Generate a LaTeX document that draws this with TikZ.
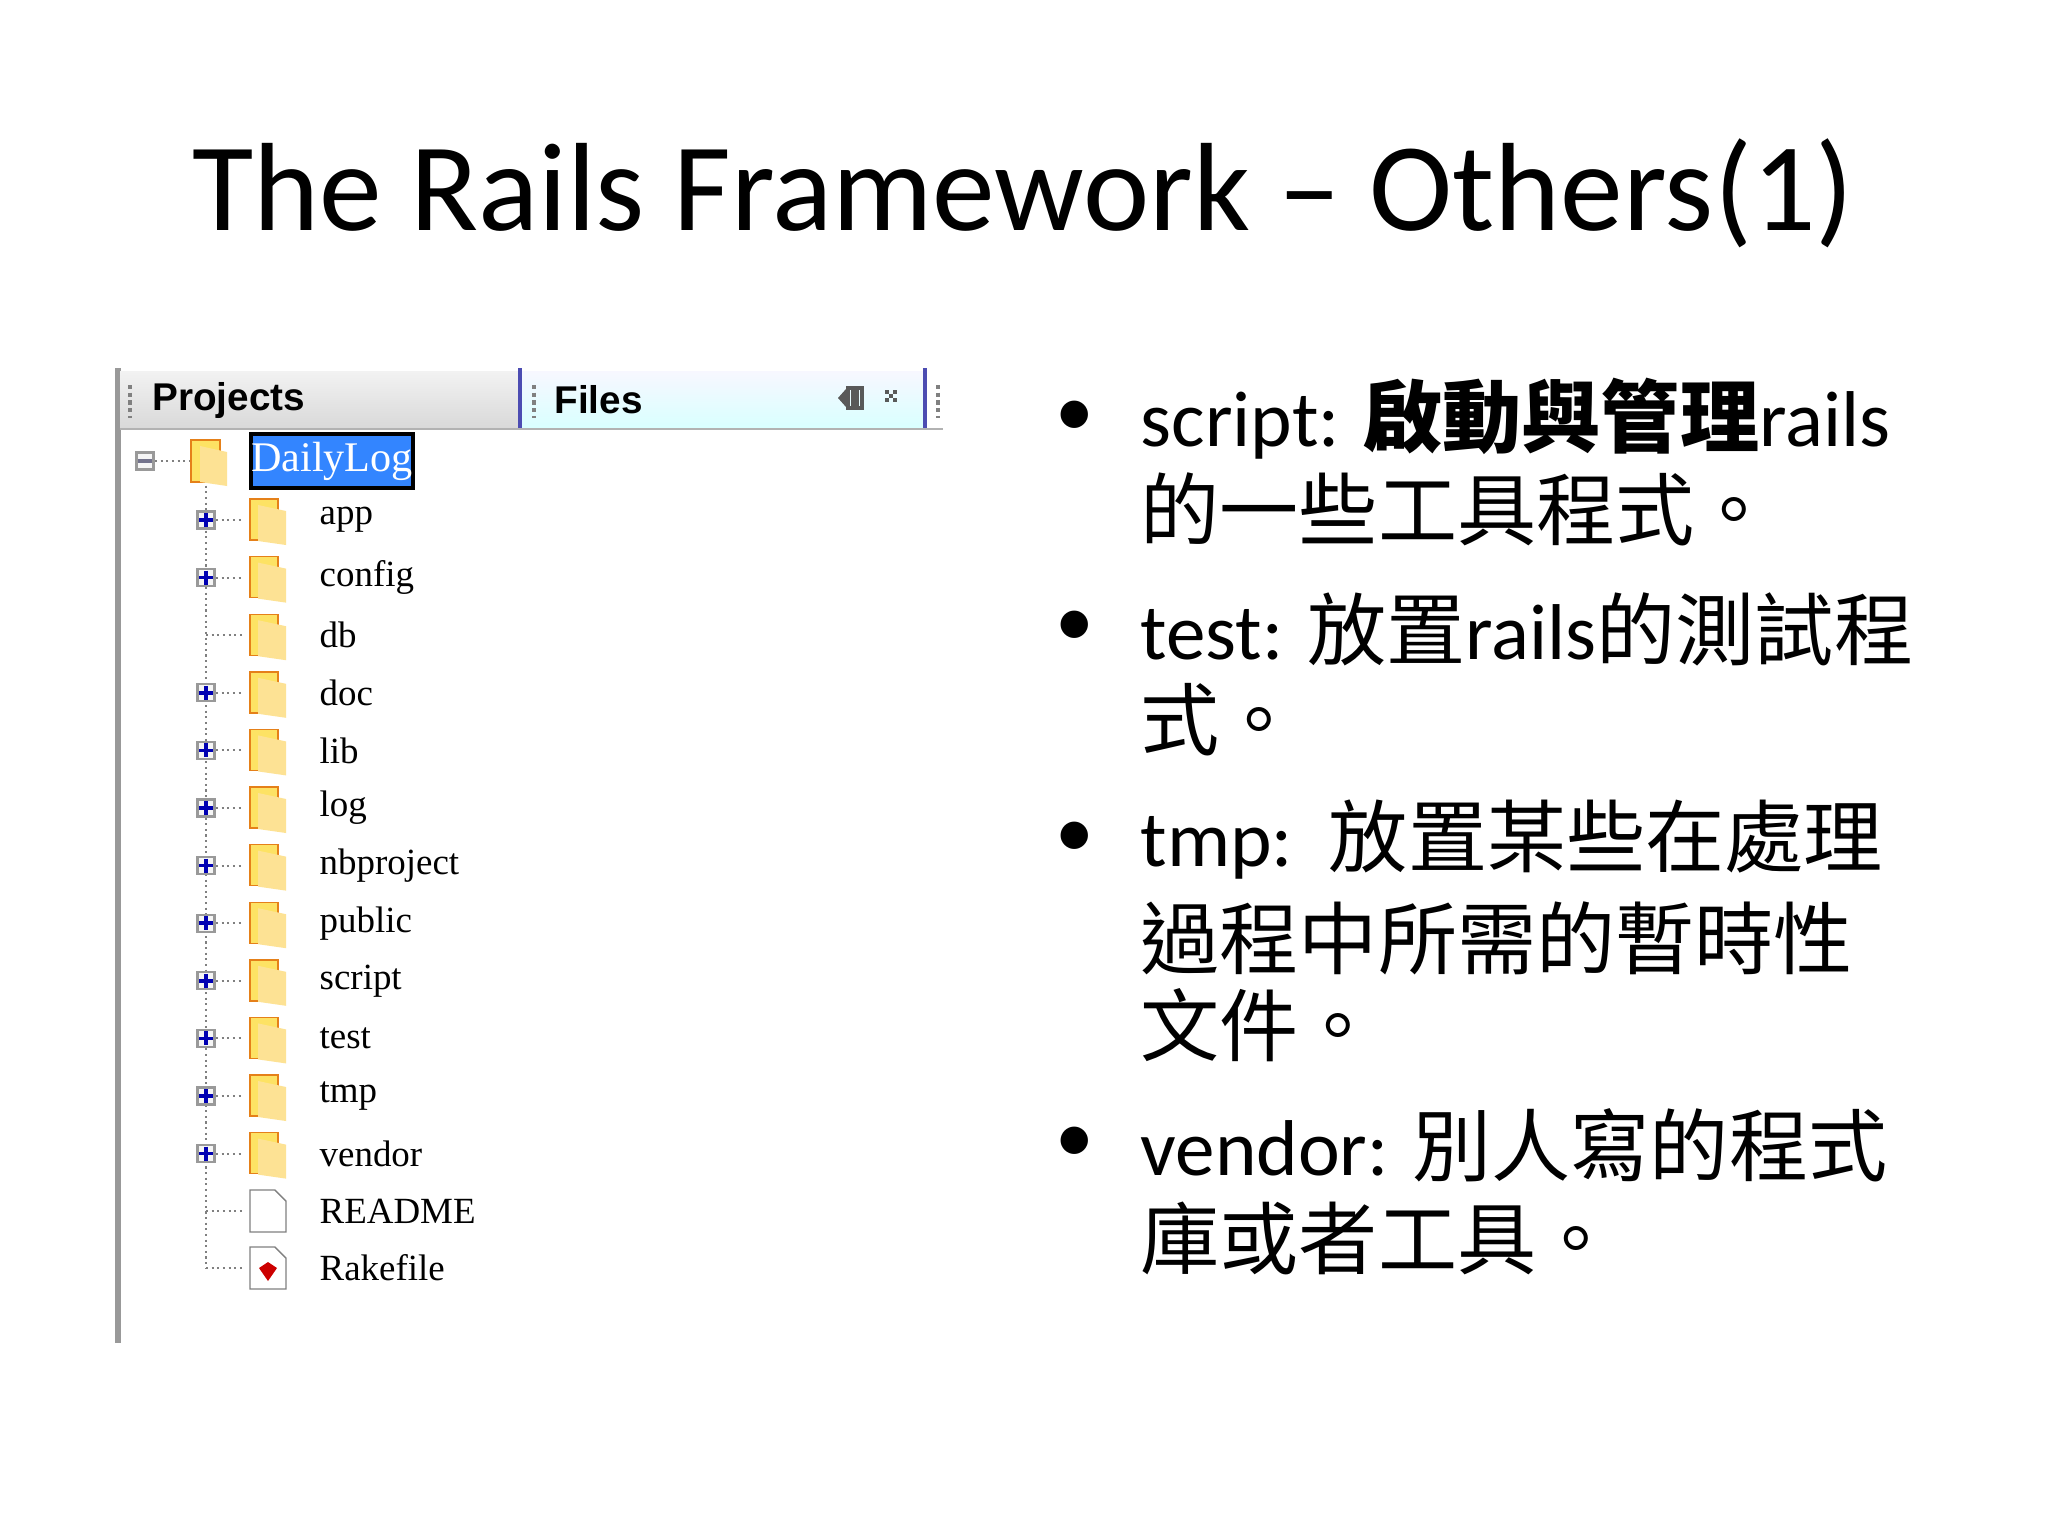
\documentclass[tikz,border=0pt]{standalone}
\usepackage{fontspec}
\setmainfont{Carlito}
\newfontfamily\cjk{Noto Sans CJK TC}
\newfontfamily\tree{Liberation Serif}
\newfontfamily\ui{Liberation Sans}
\begin{document}
\begin{tikzpicture}[x=0.01cm,y=-0.01cm,
  item/.style={anchor=west,font=\tree\fontsize{10.5pt}{10.5pt}\selectfont,inner sep=0pt},
  bul/.style={anchor=west,font=\fontsize{22.5pt}{22.5pt}\selectfont,inner sep=0pt},
  dot/.style={anchor=center,font=\fontsize{22pt}{22pt}\selectfont,inner sep=0pt},
  dline/.style={gray,densely dotted,line width=0.6pt},
  pbox/.style={draw=gray!80,fill=gray!8,minimum size=0.17cm,inner sep=0pt,line width=0.6pt}]
\useasboundingbox (0,0) rectangle (2048,1536);
\fill[white] (0,0) rectangle (2048,1536);
% title
\node (title) at (1023,193) {\fontsize{35.7pt}{35.7pt}\selectfont The Rails Framework -- Others(1)};
% panel
\draw[gray!80,line width=1.5pt] (118,368) -- (118,1343);
\shade[top color=gray!10,bottom color=gray!30] (120,371) rectangle (518,428);
\shade[top color=blue!3,bottom color=cyan!15] (522,371) rectangle (925,428);
\draw[blue!40!gray,line width=1pt] (520,368) -- (520,430);
\draw[blue!40!gray,line width=1pt] (925,368) -- (925,430);
\draw[gray!60] (120,429) -- (943,429);
\foreach \x in {130,534,938} {\draw[gray,densely dotted,line width=1.2pt] (\x,385) -- (\x,418);}
\node[anchor=west,font=\ui\bfseries\fontsize{11pt}{11pt}\selectfont] (proj) at (140,400) {Projects};
\node[anchor=west,font=\ui\bfseries\fontsize{11pt}{11pt}\selectfont] (files) at (542,400) {Files};
% tab icons
\fill[gray!70!black] (838,398) -- (846,389) -- (846,407) -- cycle;
\draw[gray!70!black,line width=1pt] (848,388) rectangle (862,408);
\draw[gray!70!black,line width=1pt] (853,390) -- (853,406) (857,390) -- (857,406);
\foreach \dx/\dy in {0/0,8/0,0/8,8/8,4/4}{\fill[gray!70!black] (885+\dx,390+\dy) rectangle (889+\dx,394+\dy);}
% tree root
\draw[dline] (206,480) -- (206,1268);
\node[pbox] (rminus) at (145,461) {};
\draw[gray!90!blue,line width=1pt] (138,461) -- (152,461);
\draw[dline] (155,461) -- (190,461);
\fill[yellow!70!orange!60] (191,440) rectangle (220,482);
\draw[orange!60!brown,line width=0.4pt] (191,440) rectangle (220,482);
\fill[yellow!50!orange!40] (200,446) -- (227,452) -- (227,486) -- (200,482) -- cycle;
\node[fill=blue!60!cyan!80,draw=black,line width=1.2pt,minimum width=1.51cm,minimum height=0.54cm,inner sep=0pt,
  text=white,font=\tree\fontsize{12pt}{12pt}\selectfont] (root) at (332,461) {DailyLog};
% items
\foreach \n/\t/\p [count=\i from 0] in {app/app/1,config/config/1,db/db/0,doc/doc/1,lib/lib/1,log/log/1,nbproject/nbproject/1,public/public/1,script/script/1,test/test/1,tmp/tmp/1,vendor/vendor/1}{
  \pgfmathsetmacro{\yy}{520+57.6*\i}
  \ifnum\p=1
    \node[pbox] (b\n) at (206,\yy) {};
    \draw[blue!70!black,line width=1pt] (199,\yy) -- (213,\yy) (206,\yy-7) -- (206,\yy+7);
    \draw[dline] (216,\yy) -- (244,\yy);
  \else
    \draw[dline] (206,\yy) -- (244,\yy);
  \fi
  \fill[yellow!70!orange!60] (250,\yy-21) rectangle (278,\yy+20);
  \draw[orange!60!brown,line width=0.4pt] (250,\yy-21) rectangle (278,\yy+20);
  \fill[yellow!50!orange!40] (258,\yy-15) -- (286,\yy-9) -- (286,\yy+25) -- (258,\yy+21) -- cycle;
  \node[item] (\n) at (319,\yy) {\t};
}
% README
\draw[dline] (206,1211) -- (244,1211);
\draw[gray,fill=white] (250,1190) -- (275,1190) -- (286,1201) -- (286,1232) -- (250,1232) -- cycle;
\node[item] (readme) at (319,1211) {README};
\draw[dline] (206,1268) -- (244,1268);
\draw[gray,fill=white] (250,1247) -- (275,1247) -- (286,1258) -- (286,1289) -- (250,1289) -- cycle;
\fill[red!80!black] (268,1262) -- (277,1268) -- (268,1281) -- (259,1268) -- cycle;
\node[item] (rake) at (319,1268) {Rakefile};
% bullets
\foreach \y/\n in {419/d1,629/d2,840/d3,1145/d4}{\node[dot] (\n) at (1075,\y) {•};}
\node[bul] (l1) at (1140,419) {script: {\cjk\bfseries 啟動與管理}rails};
\node[bul] (l2) at (1140,509) {{\cjk 的一些工具程式。}};
\node[bul] (l3) at (1140,629) {test: {\cjk 放置}rails{\cjk 的測試程}};
\node[bul] (l4) at (1140,720) {{\cjk 式。}};
\node[bul] (l5) at (1140,840) {tmp:\ \ {\cjk 放置某些在處理}};
\node[bul] (l6) at (1140,938) {{\cjk 過程中所需的暫時性}};
\node[bul] (l7) at (1140,1025) {{\cjk 文件。}};
\node[bul] (l8) at (1140,1145) {vendor: {\cjk 別人寫的程式}};
\node[bul] (l9) at (1140,1238) {{\cjk 庫或者工具。}};
\end{tikzpicture}
\end{document}
